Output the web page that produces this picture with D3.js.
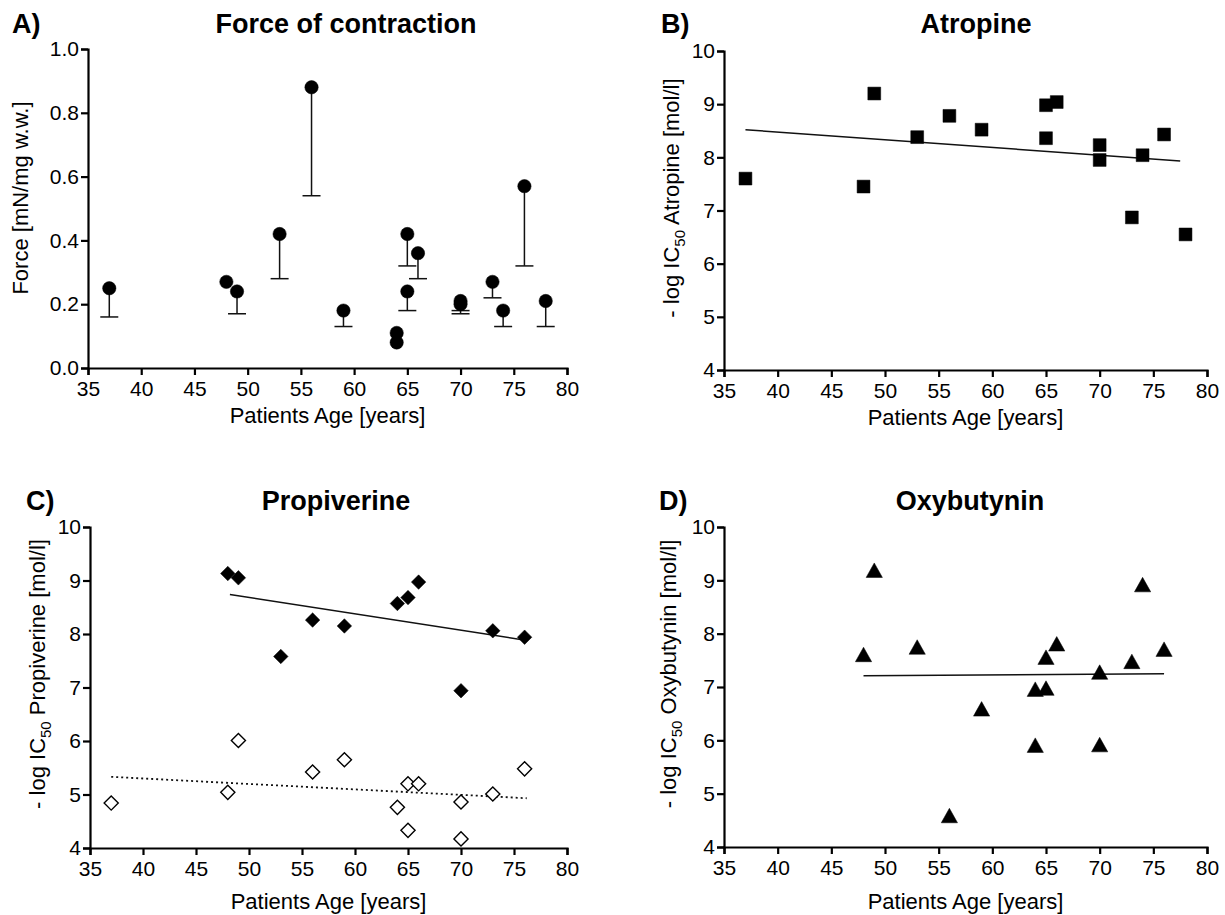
<!DOCTYPE html>
<html><head><meta charset="utf-8">
<script src="https://cdn.jsdelivr.net/npm/d3@7"></script>
<style>
body{margin:0;background:#fff}
svg{display:block;background:#fff}
text{font-family:"Liberation Sans",Arial,Helvetica,sans-serif;fill:#000}
</style>
</head><body>
<svg id="chart" width="1225" height="915"></svg>
<script>
// ---------------- DATA ----------------
const xTicks = [35, 40, 45, 50, 55, 60, 65, 70, 75, 80];
const forceTicks = [0.0, 0.2, 0.4, 0.6, 0.8, 1.0];
const icTicks = [4, 5, 6, 7, 8, 9, 10];

// A) Force of contraction (mean with lower error bar)
const forceAge   = [37, 48, 49, 53, 56, 59, 64, 64, 65, 65, 66, 70, 70, 73, 74, 76, 78];
const forceMean  = [0.25, 0.27, 0.24, 0.42, 0.88, 0.18, 0.11, 0.08, 0.42, 0.24, 0.36, 0.21, 0.20, 0.27, 0.18, 0.57, 0.21];
const forceLower = [0.16, null, 0.17, 0.28, 0.54, 0.13, null, null, 0.32, 0.18, 0.28, 0.18, 0.17, 0.22, 0.13, 0.32, 0.13];

// B) Atropine
const atropineAge = [37, 48, 49, 53, 56, 59, 65, 65, 66, 70, 70, 73, 74, 76, 78];
const atropineVal = [7.60, 7.45, 9.20, 8.38, 8.78, 8.52, 8.98, 8.36, 9.04, 8.23, 7.95, 6.87, 8.04, 8.43, 6.55];
const atropineFitAge = [37, 77.5];
const atropineFitVal = [8.52, 7.93];

// C) Propiverine (high-affinity filled, low-affinity open)
const propHiAge = [48, 49, 53, 56, 59, 64, 65, 66, 70, 73, 76];
const propHiVal = [9.13, 9.05, 7.58, 8.26, 8.15, 8.57, 8.68, 8.97, 6.94, 8.06, 7.94];
const propHiFitAge = [48.2, 76.2];
const propHiFitVal = [8.74, 7.88];
const propLoAge = [37, 48, 49, 56, 59, 64, 65, 65, 66, 70, 70, 73, 76];
const propLoVal = [4.84, 5.04, 6.01, 5.42, 5.65, 4.76, 5.20, 4.33, 5.20, 4.86, 4.17, 5.01, 5.48];
const propLoFitAge = [37, 76.2];
const propLoFitVal = [5.33, 4.93];

// D) Oxybutynin
const oxyAge = [48, 49, 53, 56, 59, 64, 64, 65, 65, 66, 70, 70, 73, 74, 76];
const oxyVal = [7.61, 9.19, 7.75, 4.59, 6.59, 5.91, 6.96, 6.98, 7.56, 7.81, 7.28, 5.92, 7.48, 8.92, 7.71];
const oxyFitAge = [48, 76];
const oxyFitVal = [7.21, 7.25];

// ---------------- DRAWING ----------------
const svg = d3.select('#chart');
svg.append('rect').attr('width', 1225).attr('height', 915).attr('fill', '#fff');

const triangleType = {
  draw(ctx, size) {
    const w = Math.sqrt(size) * 1.12, h = Math.sqrt(size);
    ctx.moveTo(0, -h / 2);
    ctx.lineTo(w / 2, h / 2);
    ctx.lineTo(-w / 2, h / 2);
    ctx.closePath();
  }
};
const diamondType = {
  draw(ctx, size) {
    const r = Math.sqrt(size) / 2;
    ctx.moveTo(0, -r); ctx.lineTo(r, 0); ctx.lineTo(0, r); ctx.lineTo(-r, 0); ctx.closePath();
  }
};

function makePanel(p) {
  const g = svg.append('g');
  const x = d3.scaleLinear().domain([35, 80]).range([p.x0, p.x1]);
  const y = d3.scaleLinear().domain(p.yDomain).range([p.y1, p.y0]);

  const xa = g.append('g').attr('transform', `translate(0,${p.y1})`)
    .call(d3.axisBottom(x).tickValues(xTicks).tickSize(7).tickSizeOuter(7).tickPadding(6).tickFormat(d3.format('d')));
  const ya = g.append('g').attr('transform', `translate(${p.x0},0)`)
    .call(d3.axisLeft(y).tickValues(p.yTicks).tickSize(7).tickSizeOuter(7).tickPadding(2).tickFormat(p.yFormat));
  [xa, ya].forEach(a => {
    a.select('.domain').attr('stroke', '#000').attr('stroke-width', 2.2);
    a.selectAll('.tick line').attr('stroke', '#000').attr('stroke-width', 2.2);
    a.selectAll('.tick text').attr('font-size', 21).attr('fill', '#000')
      .style('font-family', '"Liberation Sans", Arial, sans-serif');
  });

  // Titles
  g.append('text').attr('x', p.letterX).attr('y', p.titleY).attr('font-size', 27).attr('font-weight', 'bold').text(p.letter);
  g.append('text').attr('x', p.titleX).attr('y', p.titleY).attr('text-anchor', 'middle')
    .attr('font-size', 27).attr('font-weight', 'bold').text(p.title);
  g.append('text').attr('x', (p.x0 + p.x1) / 2).attr('y', p.xlabY).attr('text-anchor', 'middle')
    .attr('font-size', 22).text('Patients Age [years]');

  const yl = g.append('text')
    .attr('transform', `translate(${p.ylabX},${p.ylabY}) rotate(-90)`)
    .attr('text-anchor', 'middle').attr('dy', '0.35em').attr('font-size', 22);
  if (p.drug) {
    yl.append('tspan').text('- log IC');
    yl.append('tspan').attr('font-size', 15).attr('dy', 6).text('50');
    yl.append('tspan').attr('dy', -6).text(' ' + p.drug + ' [mol/l]');
  } else {
    yl.text('Force [mN/mg w.w.]');
  }
  return { g, x, y };
}

function fitLine(pn, ages, vals, dashed) {
  const line = d3.line().x(d => pn.x(d[0])).y(d => pn.y(d[1]));
  pn.g.append('path').datum(d3.zip(ages, vals)).attr('d', line)
    .attr('fill', 'none').attr('stroke', '#111').attr('stroke-width', dashed ? 1.8 : 1.5)
    .attr('stroke-dasharray', dashed ? '2,3' : null);
}

function points(pn, ages, vals, type, size, filled) {
  pn.g.append('g').selectAll('path').data(d3.zip(ages, vals)).join('path')
    .attr('transform', d => `translate(${pn.x(d[0])},${pn.y(d[1])})`)
    .attr('d', d3.symbol().type(type).size(size))
    .attr('fill', filled ? '#000' : '#fff')
    .attr('stroke', '#000').attr('stroke-width', filled ? 0.5 : 1.4);
}

// Panel A
const pA = makePanel({ x0: 88, x1: 567, y0: 49, y1: 368, yDomain: [0, 1], yTicks: forceTicks,
  yFormat: d3.format('.1f'), letter: 'A)', letterX: 12, title: 'Force of contraction', titleX: 346, titleY: 33,
  ylabX: 20, ylabY: 198, xlabY: 423 });
const forceData = d3.zip(forceAge, forceMean, forceLower);
const eb = pA.g.append('g').attr('stroke', '#111').attr('stroke-width', 1.5);
forceData.filter(d => d[2] != null).forEach(d => {
  eb.append('line').attr('x1', pA.x(d[0])).attr('x2', pA.x(d[0])).attr('y1', pA.y(d[1])).attr('y2', pA.y(d[2]));
  eb.append('line').attr('x1', pA.x(d[0]) - 9).attr('x2', pA.x(d[0]) + 9).attr('y1', pA.y(d[2])).attr('y2', pA.y(d[2]));
});
points(pA, forceAge, forceMean, d3.symbolCircle, 140, true);

// Panel B
const pB = makePanel({ x0: 724, x1: 1207, y0: 51, y1: 370, yDomain: [4, 10], yTicks: icTicks,
  yFormat: d3.format('d'), letter: 'B)', letterX: 661, title: 'Atropine', titleX: 976, titleY: 33,
  ylabX: 671, ylabY: 198, xlabY: 425, drug: 'Atropine' });
fitLine(pB, atropineFitAge, atropineFitVal, false);
points(pB, atropineAge, atropineVal, d3.symbolSquare, 165, true);

// Panel C
const pC = makePanel({ x0: 90, x1: 567, y0: 527, y1: 848, yDomain: [4, 10], yTicks: icTicks,
  yFormat: d3.format('d'), letter: 'C)', letterX: 26, title: 'Propiverine', titleX: 336, titleY: 510,
  ylabX: 37, ylabY: 674, xlabY: 909, drug: 'Propiverine' });
fitLine(pC, propHiFitAge, propHiFitVal, false);
fitLine(pC, propLoFitAge, propLoFitVal, true);
points(pC, propLoAge, propLoVal, diamondType, 200, false);
points(pC, propHiAge, propHiVal, diamondType, 210, true);

// Panel D
const pD = makePanel({ x0: 724, x1: 1207, y0: 527, y1: 847, yDomain: [4, 10], yTicks: icTicks,
  yFormat: d3.format('d'), letter: 'D)', letterX: 659, title: 'Oxybutynin', titleX: 970, titleY: 510,
  ylabX: 668, ylabY: 674, xlabY: 909, drug: 'Oxybutynin' });
fitLine(pD, oxyFitAge, oxyFitVal, false);
points(pD, oxyAge, oxyVal, triangleType, 210, true);
</script>
</body></html>
